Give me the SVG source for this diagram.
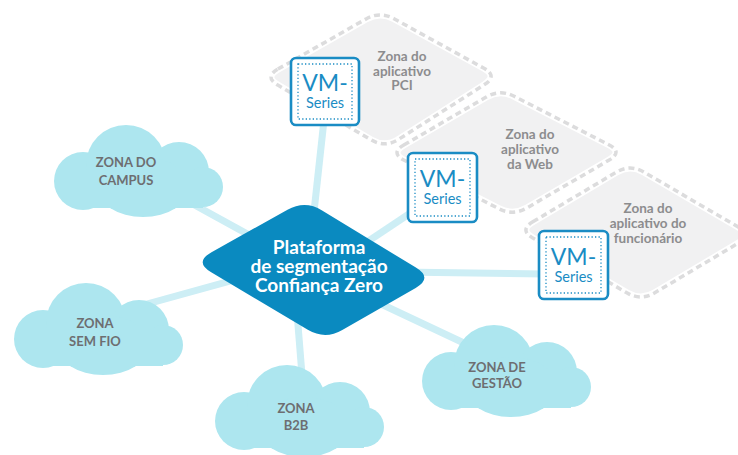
<svg xmlns="http://www.w3.org/2000/svg" xmlns:xlink="http://www.w3.org/1999/xlink" width="738" height="455" viewBox="0 0 738 455">
  <style>
    .zone-bg { fill: #f1f1f2; stroke: #ffffff; stroke-width: 7; stroke-linejoin: round; }
    .zone-dash { fill: none; stroke: #dcdcdd; stroke-width: 3.5; stroke-dasharray: 6 4; stroke-linejoin: round; }
    .zone-text { font-family: Lato, "Liberation Sans", sans-serif; font-weight: 700; font-size: 13.5px; fill: #8c8c8e; text-anchor: middle; }
    .conn { stroke: #cdeef5; stroke-width: 7; stroke-linecap: butt; fill: none; }
    .cloud { fill: #ade6ef; }
    .cloud-text { font-family: Lato, "Liberation Sans", sans-serif; font-weight: 700; font-size: 13px; fill: #6d6e71; text-anchor: middle; }
    .center-shape { fill: #0a8ac0; }
    .center-text { font-family: Lato, "Liberation Sans", sans-serif; font-weight: 700; font-size: 19px; fill: #ffffff; text-anchor: middle; }
    .vm-box { fill: #ffffff; stroke: #1a8cc4; stroke-width: 2.6; }
    .vm-inner { fill: none; stroke: #1a8cc4; stroke-width: 1.3; stroke-dasharray: 1.3 2.2; }
    .vm-big { font-family: Lato, "Liberation Sans", sans-serif; font-weight: 400; font-size: 23px; fill: #1a8cc4; text-anchor: middle; }
    .vm-small { font-family: Lato, "Liberation Sans", sans-serif; font-weight: 400; font-size: 14.5px; fill: #1a8cc4; text-anchor: middle; }
  </style>
  <defs>
    <g id="cloud-shape" class="cloud">
      <circle cx="30" cy="56" r="29"/>
      <circle cx="73" cy="40" r="40"/>
      <circle cx="126" cy="47" r="30"/>
      <circle cx="150" cy="62" r="20"/>
      <ellipse cx="90" cy="62" rx="46" ry="30"/>
      <rect x="30" y="45" width="120" height="38"/>
    </g>
  </defs>

  <!-- Application zones -->
  <g id="zona-pci">
    <path class="zone-bg" d="M 277.9,69.1 L 366.1,18.9 Q 380,11 394,18.7 L 484,68.3 Q 498,76 484.5,84.6 L 398.5,139.4 Q 385,148 371.2,139.9 L 277.8,85.1 Q 264,77 277.9,69.1 Z"/>
    <path class="zone-dash" d="M 277.9,69.1 L 366.1,18.9 Q 380,11 394,18.7 L 484,68.3 Q 498,76 484.5,84.6 L 398.5,139.4 Q 385,148 371.2,139.9 L 277.8,85.1 Q 264,77 277.9,69.1 Z"/>
    <text class="zone-text" x="402" y="61">Zona do</text>
    <text class="zone-text" x="402" y="76">aplicativo</text>
    <text class="zone-text" x="402" y="90">PCI</text>
  </g>
  <g id="zona-web">
    <path class="zone-bg" d="M 403.8,145 L 486.2,97 Q 500,89 514.2,96.3 L 608.8,144.7 Q 623,152 609.2,160 L 526.8,208 Q 513,216 498.8,208.7 L 404.2,160.3 Q 390,153 403.8,145 Z"/>
    <path class="zone-dash" d="M 403.8,145 L 486.2,97 Q 500,89 514.2,96.3 L 608.8,144.7 Q 623,152 609.2,160 L 526.8,208 Q 513,216 498.8,208.7 L 404.2,160.3 Q 390,153 403.8,145 Z"/>
    <text class="zone-text" x="530" y="139">Zona do</text>
    <text class="zone-text" x="530" y="154">aplicativo</text>
    <text class="zone-text" x="530" y="169">da Web</text>
  </g>
  <g id="zona-funcionario">
    <path class="zone-bg" d="M 532.8,221.8 L 616.2,172.2 Q 630,164 643.8,172 L 738.2,227 Q 752,235 738.2,243.2 L 654.8,292.8 Q 641,301 627.2,293 L 532.8,238 Q 519,230 532.8,221.8 Z"/>
    <path class="zone-dash" d="M 532.8,221.8 L 616.2,172.2 Q 630,164 643.8,172 L 738.2,227 Q 752,235 738.2,243.2 L 654.8,292.8 Q 641,301 627.2,293 L 532.8,238 Q 519,230 532.8,221.8 Z"/>
    <text class="zone-text" x="648" y="213">Zona do</text>
    <text class="zone-text" x="648" y="228">aplicativo do</text>
    <text class="zone-text" x="648" y="243">funcionário</text>
  </g>

  <!-- Connectors -->
  <g id="connectors">
    <line class="conn" x1="140" y1="175" x2="313" y2="270"/>
    <line class="conn" x1="100" y1="317" x2="313" y2="258"/>
    <line class="conn" x1="296" y1="300" x2="304" y2="400"/>
    <line class="conn" x1="313" y1="272" x2="500" y2="360"/>
    <line class="conn" x1="324" y1="120" x2="312" y2="230"/>
    <line class="conn" x1="430" y1="200" x2="340" y2="260"/>
    <line class="conn" x1="400" y1="272" x2="545" y2="274"/>
  </g>

  <!-- Clouds -->
  <g id="zona-campus">
    <use xlink:href="#cloud-shape" href="#cloud-shape" x="53" y="125"/>
    <text class="cloud-text" x="126" y="167">ZONA DO</text>
    <text class="cloud-text" x="126" y="185">CAMPUS</text>
  </g>
  <g id="zona-sem-fio">
    <use xlink:href="#cloud-shape" href="#cloud-shape" x="13" y="283"/>
    <text class="cloud-text" x="95" y="328">ZONA</text>
    <text class="cloud-text" x="95" y="346">SEM FIO</text>
  </g>
  <g id="zona-b2b">
    <use xlink:href="#cloud-shape" href="#cloud-shape" x="214" y="365"/>
    <text class="cloud-text" x="296" y="413">ZONA</text>
    <text class="cloud-text" x="296" y="430">B2B</text>
  </g>
  <g id="zona-gestao">
    <use xlink:href="#cloud-shape" href="#cloud-shape" x="421" y="325"/>
    <text class="cloud-text" x="497" y="372">ZONA DE</text>
    <text class="cloud-text" x="497" y="388">GESTÃO</text>
  </g>

  <!-- Central platform -->
  <g id="plataforma">
    <path class="center-shape" d="M 211.5,252.2 L 287.5,209.8 Q 305,200 322.1,210.4 L 415.9,267.6 Q 433,278 415.7,288 L 342.3,330 Q 325,340 307.8,329.8 L 211.2,272.2 Q 194,262 211.5,252.2 Z"/>
    <text class="center-text" x="319" y="254">Plataforma</text>
    <text class="center-text" x="319" y="273">de segmentação</text>
    <text class="center-text" x="319" y="292">Confiança Zero</text>
  </g>

  <!-- VM-Series boxes -->
  <g id="vm-series-pci">
    <rect class="vm-box" x="291" y="58" width="68" height="67" rx="5"/>
    <rect class="vm-inner" x="298" y="64" width="54" height="55"/>
    <text class="vm-big" x="325" y="91">VM-</text>
    <text class="vm-small" x="325" y="108">Series</text>
  </g>
  <g id="vm-series-web">
    <rect class="vm-box" x="408" y="153" width="69" height="69" rx="5"/>
    <rect class="vm-inner" x="415" y="159" width="55" height="57"/>
    <text class="vm-big" x="442.5" y="187">VM-</text>
    <text class="vm-small" x="442.5" y="204">Series</text>
  </g>
  <g id="vm-series-funcionario">
    <rect class="vm-box" x="539" y="231" width="69" height="68" rx="5"/>
    <rect class="vm-inner" x="546" y="237" width="55" height="56"/>
    <text class="vm-big" x="573.5" y="265">VM-</text>
    <text class="vm-small" x="573.5" y="282">Series</text>
  </g>
</svg>
